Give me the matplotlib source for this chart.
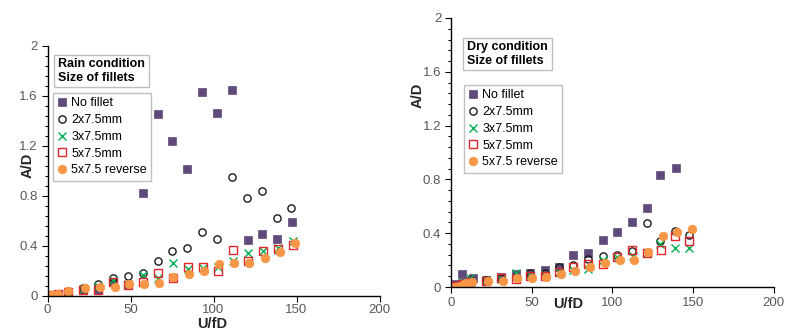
import matplotlib
matplotlib.use("Agg")
import matplotlib.pyplot as plt
from matplotlib.ticker import MultipleLocator, FuncFormatter

plt.rcParams['font.family'] = ['Liberation Sans', 'DejaVu Sans']

# ---------------- Rain condition ----------------
rain_nofillet_x = [0.5, 3, 6.5, 12.5, 21.5, 30.5, 39.5, 48.5, 57.5, 66.5, 75, 84, 93, 102, 111, 120.5, 129.5, 138.5, 147.5]
rain_nofillet_y = [0.0, 0.01, 0.015, 0.03, 0.048, 0.048, 0.115, 0.09, 0.824, 1.454, 1.237, 1.016, 1.634, 1.467, 1.65, 0.448, 0.496, 0.453, 0.595]

rain_2x_x = [0.5, 3, 6.5, 12.5, 21.5, 30.5, 39.5, 48.5, 57.5, 66.5, 75, 84, 93, 102, 111, 120, 129, 138, 146.5]
rain_2x_y = [0.0, 0.01, 0.015, 0.04, 0.064, 0.093, 0.147, 0.16, 0.181, 0.277, 0.357, 0.384, 0.512, 0.456, 0.949, 0.787, 0.837, 0.627, 0.701]

rain_3x_x = [0.5, 3, 6.5, 12.5, 21.5, 30.5, 39.5, 48.5, 57.5, 66.5, 75.5, 84.5, 93.5, 102.5, 111.5, 120.5, 130, 139, 148]
rain_3x_y = [0.0, 0.01, 0.015, 0.035, 0.056, 0.08, 0.128, 0.095, 0.168, 0.141, 0.264, 0.215, 0.228, 0.235, 0.283, 0.341, 0.358, 0.384, 0.44]

rain_5x_x = [0.5, 3, 6.5, 12.5, 21.5, 30.5, 39.5, 48.5, 57.5, 66.5, 75.5, 84.5, 93.5, 102.5, 111.5, 120.5, 130, 139, 148]
rain_5x_y = [0.0, 0.01, 0.015, 0.03, 0.048, 0.048, 0.115, 0.088, 0.115, 0.187, 0.148, 0.235, 0.235, 0.2, 0.368, 0.28, 0.357, 0.378, 0.408]

rain_rev_x = [0, 2.5, 4.5, 6.5, 12.5, 22.5, 31.5, 40.5, 49, 58, 67, 75.8, 85, 94, 103.5, 112.5, 121.5, 131, 140, 149]
rain_rev_y = [0.0, 0.01, 0.012, 0.016, 0.043, 0.061, 0.07, 0.075, 0.093, 0.096, 0.107, 0.149, 0.176, 0.2, 0.253, 0.261, 0.267, 0.301, 0.349, 0.427]

# ---------------- Dry condition ----------------
dry_nofillet_x = [0.5, 3, 6.6, 13.8, 22, 31, 40.3, 49, 58, 67, 75.8, 85, 94, 103, 112, 121.3, 129.6, 139.5]
dry_nofillet_y = [0.0, 0.02, 0.097, 0.065, 0.052, 0.077, 0.094, 0.102, 0.126, 0.151, 0.238, 0.25, 0.349, 0.407, 0.486, 0.585, 0.833, 0.885]

dry_2x_x = [0.5, 3, 7, 12, 22, 31, 40.3, 49, 58, 67, 75.8, 85, 94, 103, 112, 121.3, 129.6, 139, 147.5]
dry_2x_y = [0.0, 0.01, 0.03, 0.05, 0.052, 0.07, 0.077, 0.102, 0.102, 0.146, 0.164, 0.206, 0.233, 0.238, 0.268, 0.473, 0.342, 0.416, 0.39]

dry_3x_x = [0.5, 3, 7, 11.8, 22, 31, 40.3, 49, 58, 67, 75.8, 85, 94.2, 103, 112.6, 121.3, 129.6, 138.9, 147.7]
dry_3x_y = [0.0, 0.01, 0.04, 0.065, 0.05, 0.06, 0.105, 0.09, 0.09, 0.115, 0.126, 0.131, 0.2, 0.22, 0.23, 0.25, 0.32, 0.288, 0.292]

dry_5x_x = [0.5, 3, 7, 12, 22, 31, 40.3, 49, 58, 67, 75.8, 85, 94, 103, 112, 121.3, 130, 138.9, 147.7]
dry_5x_y = [0.0, 0.01, 0.02, 0.04, 0.047, 0.067, 0.058, 0.083, 0.083, 0.115, 0.151, 0.169, 0.169, 0.22, 0.275, 0.255, 0.275, 0.379, 0.342]

dry_rev_x = [0, 3, 5.6, 8, 10, 12.8, 23, 32, 41, 50, 59, 68, 77, 86.2, 95.5, 104.5, 113.5, 122.3, 131.2, 140.3, 149.6]
dry_rev_y = [0.0, 0.0, 0.01, 0.02, 0.03, 0.04, 0.042, 0.047, 0.065, 0.065, 0.077, 0.094, 0.119, 0.151, 0.181, 0.201, 0.201, 0.258, 0.379, 0.411, 0.429]

series_labels = ["No fillet", "2x7.5mm", "3x7.5mm", "5x7.5mm", "5x7.5 reverse"]

styles = [
    dict(marker='s', ms=5.8, mfc='#604A7B', mec='#604A7B', mew=0.5),
    dict(marker='o', ms=5.2, mfc='none', mec='#1a1a1a', mew=1.0),
    dict(marker='x', ms=5.2, mfc='none', mec='#00B050', mew=1.0),
    dict(marker='s', ms=5.6, mfc='none', mec='#E3262B', mew=1.0),
    dict(marker='o', ms=6.2, mfc='#F79646', mec='#F79646', mew=0.5),
]

W, H = 800, 336
fig = plt.figure(figsize=(W / 100, H / 100), dpi=100)


def fx(px):
    return px / W


def fy(py):
    return 1 - py / H


def make_panel(rect, data, title, title_xy, legend_xy, ylab_xy, xlab_xy, xpad):
    ax = fig.add_axes(rect)
    for (xs, ys), lab, st in zip(data, series_labels, styles):
        ax.plot(xs, ys, linestyle='none', label=lab, **st)
    ax.set_xlim(0, 200)
    ax.set_ylim(0, 2)
    ax.xaxis.set_major_locator(MultipleLocator(50))
    ax.yaxis.set_major_locator(MultipleLocator(0.4))
    ax.yaxis.set_minor_locator(MultipleLocator(0.08))
    ax.yaxis.set_major_formatter(FuncFormatter(lambda v, p: f"{v:g}"))
    for s in ('top', 'right'):
        ax.spines[s].set_visible(False)
    for s in ('left', 'bottom'):
        ax.spines[s].set_color('#000000')
        ax.spines[s].set_linewidth(1.0)
    ax.tick_params(axis='both', which='major', direction='out', length=4,
                   width=0.8, colors='#000000', labelcolor='#595959', labelsize=9.5)
    ax.tick_params(axis='y', which='minor', direction='out', length=2.5, width=0.8, colors='#000000')
    ax.tick_params(axis='x', which='major', pad=xpad)
    ax.tick_params(axis='y', which='major', pad=3)
    ax.set_ylabel("A/D", fontsize=10.5, fontweight='bold', color='#262626')
    ax.set_xlabel("U/fD", fontsize=10.5, fontweight='bold', color='#262626')
    ax.yaxis.set_label_coords(*ylab_xy)
    ax.xaxis.set_label_coords(*xlab_xy)
    ax.xaxis.label.set_va('center')
    ax.yaxis.label.set_va('center')
    ax.patch.set_alpha(0)

    fig.text(fx(title_xy[0]), fy(title_xy[1]), title, ha='left', va='center',
             fontsize=9, fontweight='bold', linespacing=1.15, color='#000000',
             bbox=dict(boxstyle='square,pad=0.3', fc='white', ec='#bfbfbf', lw=1.0))

    leg = ax.legend(loc='upper left', bbox_to_anchor=(fx(legend_xy[0]), fy(legend_xy[1])),
                    bbox_transform=fig.transFigure, fontsize=9, frameon=True,
                    fancybox=False, edgecolor='#bfbfbf', framealpha=1,
                    borderaxespad=0, borderpad=0.35, labelspacing=0.38,
                    handlelength=0.8, handletextpad=0.3, numpoints=1)
    leg.get_frame().set_linewidth(1.0)
    for t in leg.get_texts():
        t.set_color('#000000')
    return ax


rain_data = [(rain_nofillet_x, rain_nofillet_y), (rain_2x_x, rain_2x_y), (rain_3x_x, rain_3x_y),
             (rain_5x_x, rain_5x_y), (rain_rev_x, rain_rev_y)]
dry_data = [(dry_nofillet_x, dry_nofillet_y), (dry_2x_x, dry_2x_y), (dry_3x_x, dry_3x_y),
            (dry_5x_x, dry_5x_y), (dry_rev_x, dry_rev_y)]

make_panel([fx(47.5), fy(296), (379.5 - 47.5) / W, (296 - 46) / H], rain_data,
           "Rain condition\nSize of fillets", (58, 71), (53, 93),
           ((28 - 47.5) / 332, (296 - 165) / 250), ((212 - 47.5) / 332, (296 - 324) / 250), 2)

make_panel([fx(451), fy(287), 322.6 / W, (287 - 18) / H], dry_data,
           "Dry condition\nSize of fillets", (467, 54), (464, 85),
           ((418 - 451) / 322.6, (287 - 95) / 269), ((568 - 451) / 322.6, (287 - 304) / 269), 3)

fig.savefig("out.png", dpi=100)
